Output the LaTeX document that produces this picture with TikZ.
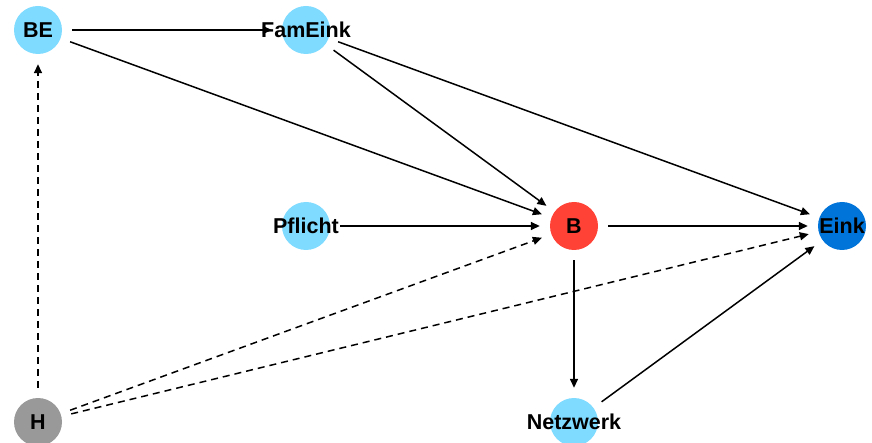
\documentclass[tikz,border=0pt]{standalone}
\usepackage{fontspec}
\setmainfont{Liberation Sans}
\usetikzlibrary{arrows.meta}
\definecolor{aqua}{HTML}{7FDBFF}
\definecolor{clrred}{HTML}{FF4136}
\definecolor{clrblue}{HTML}{0074D9}
\definecolor{clrgray}{HTML}{999999}
\begin{document}
\begin{tikzpicture}[x=1pt,y=-1pt,
  dagnode/.style={circle,minimum size=48pt,inner sep=0pt,draw=none},
  lbl/.style={font=\fontsize{21.5}{23}\selectfont\bfseries,text=black},
  edge/.style={line width=1.5pt,-{Triangle[length=9pt,width=8pt]},shorten >=10pt,shorten <=10pt},
  dedge/.style={edge,dash pattern=on 7pt off 5pt}]
\useasboundingbox (0,0) rectangle (872,443);
\clip (0,0) rectangle (872,443);
\node[dagnode,fill=aqua,label={[lbl]center:BE}] (BE) at (38,30) {};
\node[dagnode,fill=aqua,label={[lbl]center:FamEink}] (FE) at (306,30) {};
\node[dagnode,fill=aqua,label={[lbl]center:Pflicht}] (P) at (306,226) {};
\node[dagnode,fill=clrred,label={[lbl]center:B}] (B) at (574,226) {};
\node[dagnode,fill=clrblue,label={[lbl]center:Eink}] (E) at (842,226) {};
\node[dagnode,fill=clrgray,label={[lbl]center:H}] (H) at (38,422) {};
\node[dagnode,fill=aqua,label={[lbl]center:Netzwerk}] (N) at (574,422) {};
\draw[edge] (BE) -- (FE);
\draw[edge] (BE) -- (B);
\draw[edge] (FE) -- (B);
\draw[edge] (FE) -- (E);
\draw[edge] (P) -- (B);
\draw[edge] (B) -- (E);
\draw[edge] (B) -- (N);
\draw[edge] (N) -- (E);
\draw[dedge] (H) -- (BE);
\draw[dedge] (H) -- (B);
\draw[dedge] (H) -- (E);
\end{tikzpicture}
\end{document}
